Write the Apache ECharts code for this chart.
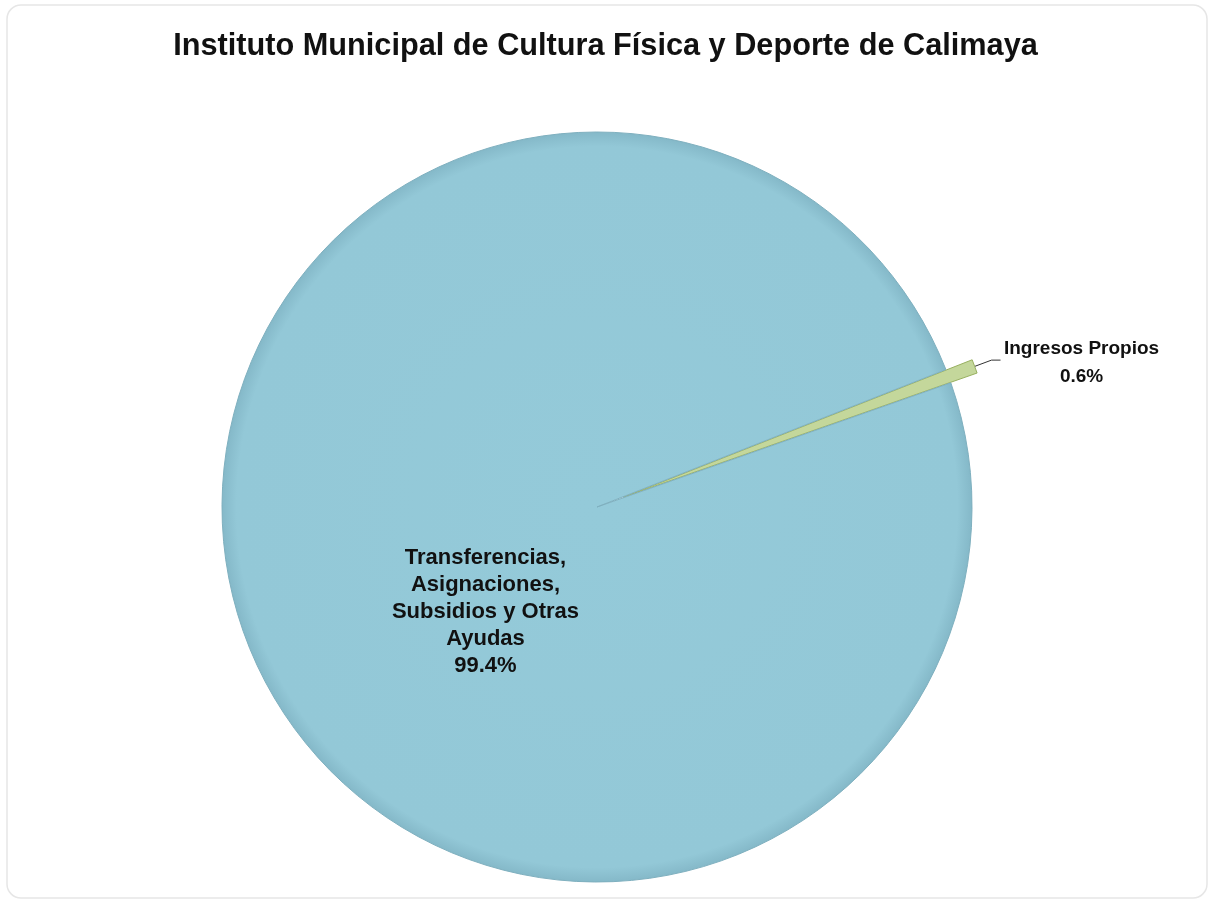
<!DOCTYPE html>
<html>
<head>
<meta charset="utf-8">
<script src="https://cdn.jsdelivr.net/npm/echarts@6/dist/echarts.min.js"></script>
<style>
html,body{margin:0;padding:0;background:#fff;}
#chart{width:1211px;height:903px;}
</style>
</head>
<body>
<div id="chart"></div>
<script>
const titleText = 'Instituto Municipal de Cultura Física y Deporte de Calimaya';
const categories = ['Ingresos Propios', 'Transferencias,\nAsignaciones,\nSubsidios y Otras\nAyudas'];
const values = [0.6, 99.4];
const valueLabels = ['0.6%', '99.4%'];

const chart = echarts.init(document.getElementById('chart'));
const option = {
  backgroundColor: '#ffffff',
  graphic: [{
    type: 'rect',
    shape: { x: 7, y: 5, width: 1200, height: 893, r: 14 },
    style: { fill: 'none', stroke: '#e6e6e6', lineWidth: 1.5 },
    silent: true,
    z: -1
  }],
  title: {
    text: titleText,
    left: 'center',
    top: 26,
    textStyle: { fontFamily: 'Liberation Sans, Arial', fontWeight: 'bold', fontSize: 30.7, color: '#111' }
  },
  series: [{
    type: 'pie',
    center: [597, 507],
    radius: [0, 375],
    startAngle: 21.5,
    clockwise: true,
    selectedMode: 'single',
    selectedOffset: 28,
    animation: false,
    data: categories.map((c, i) => ({
      name: c,
      value: values[i],
      selected: i === 0,
      itemStyle: i === 0 ? {
        color: '#c4d79b', borderColor: '#98b060', borderWidth: 1
      } : {
        color: {
          type: 'radial', x: 0.5, y: 0.5, r: 0.5,
          colorStops: [
            { offset: 0, color: '#94cad9' },
            { offset: 0.96, color: '#93c8d7' },
            { offset: 1, color: '#84b8c8' }
          ]
        },
        borderColor: '#7fb0bf', borderWidth: 1
      },
      label: i === 0 ? {
        position: 'outside',
        formatter: '{a|Ingresos Propios}\n{a|' + valueLabels[0] + '}',
        rich: { a: { width: 152, align: 'center', fontFamily: 'Liberation Sans, Arial', fontWeight: 'bold', fontSize: 19, color: '#111', lineHeight: 28 } }
      } : {
        position: 'inside',
        formatter: c + '\n' + valueLabels[i],
        align: 'center',
        fontFamily: 'Liberation Sans, Arial', fontWeight: 'bold', fontSize: 22, color: '#111', lineHeight: 27
      },
      labelLine: i === 0 ? { show: true, length: 18, length2: 9, lineStyle: { color: '#333', width: 1 } } : { show: false }
    })),
    labelLayout: function (params) {
      if (params.dataIndex === 1) {
        return { dx: 67, dy: 38 };
      }
      return { dy: 3 };
    },
    emphasis: { disabled: true }
  }]
};
chart.setOption(option);
</script>
</body>
</html>
